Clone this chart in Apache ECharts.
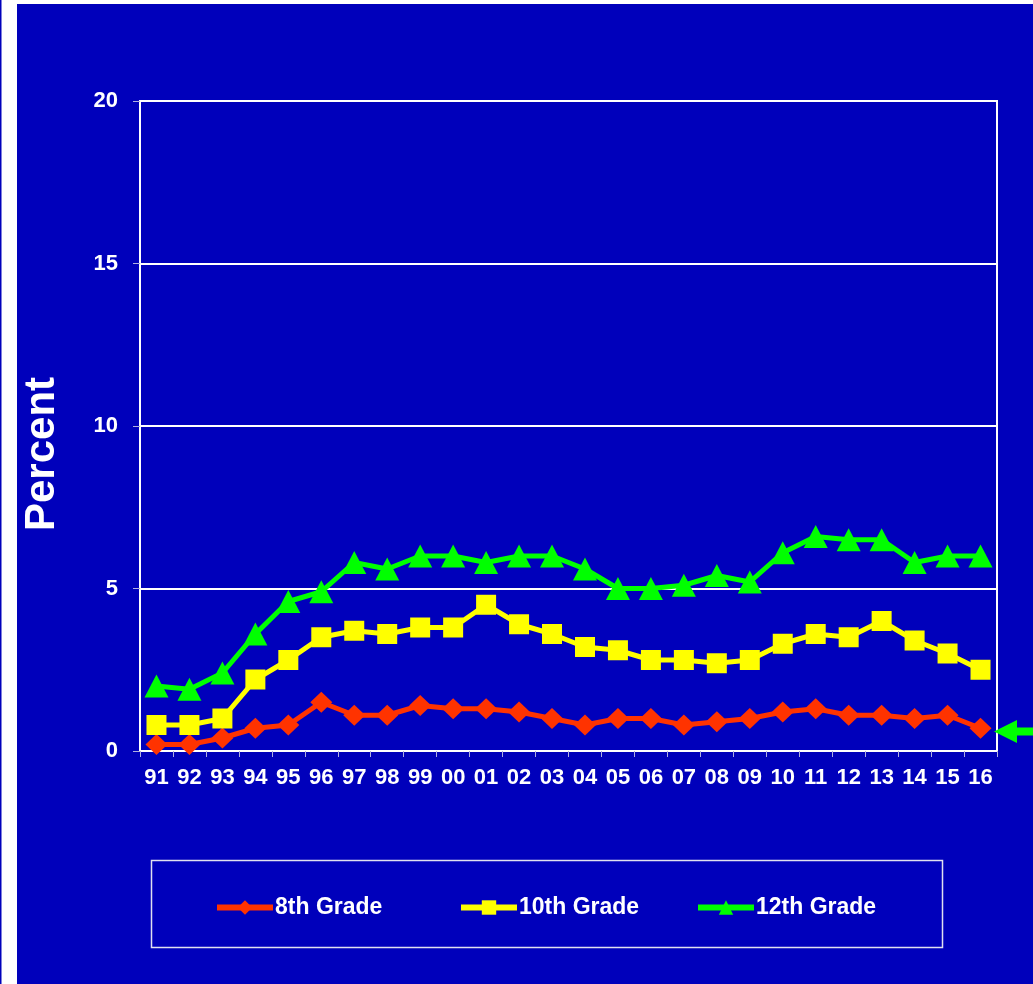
<!DOCTYPE html>
<html>
<head>
<meta charset="utf-8">
<script src="https://cdn.jsdelivr.net/npm/echarts@6/dist/echarts.min.js"></script>
<style>
  html, body { margin: 0; padding: 0; background: #ffffff; }
  #main { width: 1033px; height: 984px; }
</style>
</head>
<body>
<div id="main"></div>
<script>
const years = ['91','92','93','94','95','96','97','98','99','00','01','02','03','04','05','06','07','08','09','10','11','12','13','14','15','16'];
const grade8 = [0.2,0.2,0.4,0.7,0.8,1.5,1.1,1.1,1.4,1.3,1.3,1.2,1.0,0.8,1.0,1.0,0.8,0.9,1.0,1.2,1.3,1.1,1.1,1.0,1.1,0.7];
const grade10 = [0.8,0.8,1.0,2.2,2.8,3.5,3.7,3.6,3.8,3.8,4.5,3.9,3.6,3.2,3.1,2.8,2.8,2.7,2.8,3.3,3.6,3.5,4.0,3.4,3.0,2.5];
const grade12 = [2.0,1.9,2.4,3.6,4.6,4.9,5.8,5.6,6.0,6.0,5.8,6.0,6.0,5.6,5.0,5.0,5.1,5.4,5.2,6.1,6.6,6.5,6.5,5.8,6.0,6.0];
const seriesNames = ['8th Grade', '10th Grade', '12th Grade'];
const yTicks = [0,5,10,15,20];
const arrowValue = 0.6;

const BLUE = '#0000BB';
const FONT = 'Liberation Sans, Arial, sans-serif';

const chart = echarts.init(document.getElementById('main'));

function legendFor(name, left) {
  return {
    data: [name],
    left: left, top: 891,
    itemWidth: 56, itemHeight: 18,
    lineStyle: { width: 6 },
    textStyle: { color: '#ffffff', fontSize: 23, fontWeight: 'bold', fontFamily: FONT, padding: [0,0,0,-3] }
  };
}

const option = {
  backgroundColor: '#ffffff',
  animation: false,
  textStyle: { fontFamily: FONT },
  grid: {
    left: 140, top: 101, right: 36, bottom: 233,
    show: true, borderColor: '#ffffff', borderWidth: 2,
    backgroundColor: 'transparent'
  },
  xAxis: {
    type: 'category',
    data: years,
    boundaryGap: true,
    axisLine: { show: true, lineStyle: { color: '#ffffff', width: 2 } },
    axisTick: { show: true, length: 6, lineStyle: { color: '#b0b0e0', width: 1 } },
    axisLabel: { color: '#ffffff', fontSize: 22, fontWeight: 'bold', margin: 16, fontFamily: FONT, interval: 0 }
  },
  yAxis: {
    type: 'value',
    min: yTicks[0], max: yTicks[yTicks.length - 1], interval: 5,
    axisLine: { show: true, lineStyle: { color: '#ffffff', width: 2 } },
    axisTick: { show: true, length: 7, lineStyle: { color: '#b0b0e0', width: 1 } },
    axisLabel: { color: '#ffffff', fontSize: 22, fontWeight: 'bold', margin: 22, fontFamily: FONT },
    splitLine: { show: true, lineStyle: { color: '#ffffff', width: 2 } }
  },
  legend: [
    legendFor(seriesNames[0], 209),
    legendFor(seriesNames[1], 453),
    legendFor(seriesNames[2], 690)
  ],
  series: [
    {
      name: seriesNames[0], type: 'line', data: grade8,
      symbol: 'diamond', symbolSize: [22, 21],
      lineStyle: { color: '#FF3300', width: 5 },
      itemStyle: { color: '#FF3300' }, z: 3
    },
    {
      name: seriesNames[1], type: 'line', data: grade10,
      symbol: 'rect', symbolSize: 20,
      lineStyle: { color: '#FFFF00', width: 5 },
      itemStyle: { color: '#FFFF00' }, z: 4
    },
    {
      name: seriesNames[2], type: 'line', data: grade12,
      symbol: 'triangle', symbolSize: [24, 23],
      lineStyle: { color: '#00FF00', width: 5 },
      itemStyle: { color: '#00FF00' }, z: 5
    }
  ]
};

chart.setOption(option);

const arrowY = chart.convertToPixel({ yAxisIndex: 0 }, arrowValue);
const tipX = 994;

chart.setOption({
  graphic: [
    { type: 'rect', z: -10, silent: true, shape: { x: 17, y: 4, width: 1016, height: 980 }, style: { fill: BLUE } },
    { type: 'rect', z: -10, silent: true, shape: { x: 0, y: 0, width: 1.5, height: 984 }, style: { fill: BLUE } },
    { type: 'rect', z: -5, silent: true, shape: { x: 151.5, y: 860.5, width: 791, height: 87 }, style: { fill: 'none', stroke: '#e0e0f0', lineWidth: 1.5 } },
    { type: 'text', z: 10, silent: true, x: 42, y: 454, rotation: Math.PI / 2,
      style: { text: 'Percent', fill: '#ffffff', font: 'bold 42px ' + FONT, textAlign: 'center', textVerticalAlign: 'middle' } },
    { type: 'polygon', z: 10, silent: true,
      shape: { points: [[tipX, arrowY], [tipX + 23, arrowY - 11.5], [tipX + 23, arrowY - 4], [1033, arrowY - 4], [1033, arrowY + 4], [tipX + 23, arrowY + 4], [tipX + 23, arrowY + 11.5]] },
      style: { fill: '#00FF00' } }
  ]
});
</script>
</body>
</html>
